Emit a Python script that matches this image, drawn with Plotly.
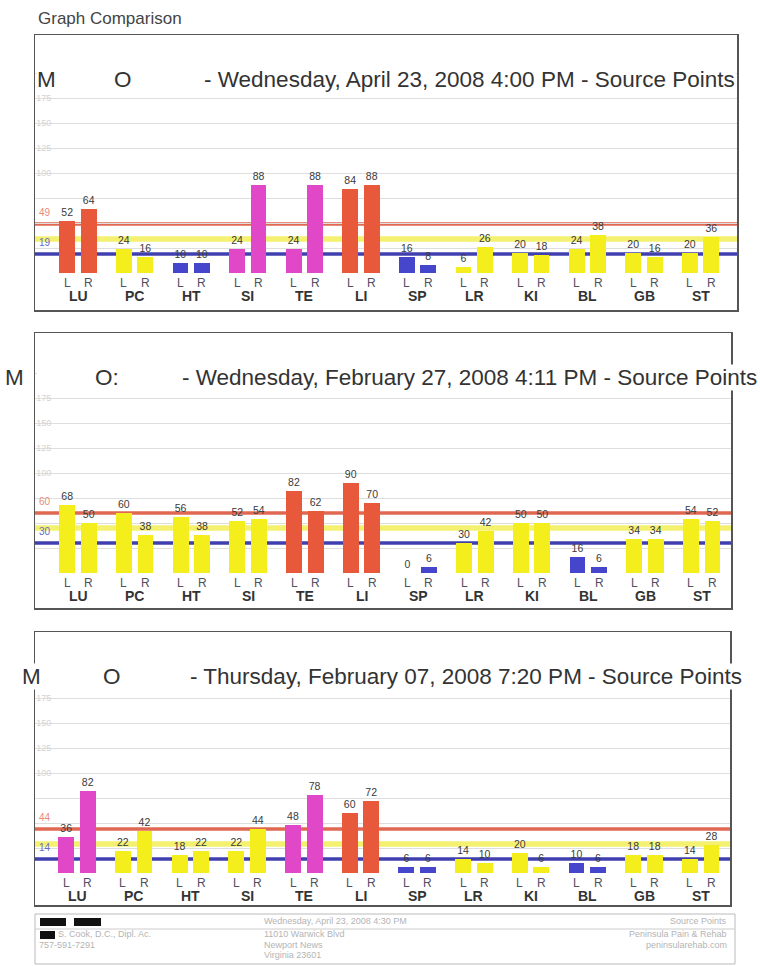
import plotly.graph_objects as go

W, H = 760, 966

categories = ["LU", "PC", "HT", "SI", "TE", "LI", "SP", "LR", "KI", "BL", "GB", "ST"]

titles = [
    "- Wednesday, April 23, 2008 4:00 PM - Source Points",
    "- Wednesday, February 27, 2008 4:11 PM - Source Points",
    "- Thursday, February 07, 2008 7:20 PM - Source Points",
]
title_marks = [("M", "O"), ("M", "O:"), ("M", "O")]

p1_left = [52, 24, 10, 24, 24, 84, 16, 6, 20, 24, 20, 20]
p1_right = [64, 16, 10, 88, 88, 88, 8, 26, 18, 38, 16, 36]
p2_left = [68, 60, 56, 52, 82, 90, 0, 30, 50, 16, 34, 54]
p2_right = [50, 38, 38, 54, 62, 70, 6, 42, 50, 6, 34, 52]
p3_left = [36, 22, 18, 22, 48, 60, 6, 14, 20, 10, 18, 14]
p3_right = [82, 42, 22, 44, 78, 72, 6, 10, 6, 6, 18, 28]

# colour class of each bar: R red, Y yellow, B blue, M magenta
p1_left_cls = ["R", "Y", "B", "M", "M", "R", "B", "Y", "Y", "Y", "Y", "Y"]
p1_right_cls = ["R", "Y", "B", "M", "M", "R", "B", "Y", "Y", "Y", "Y", "Y"]
p2_left_cls = ["Y", "Y", "Y", "Y", "R", "R", "B", "Y", "Y", "B", "Y", "Y"]
p2_right_cls = ["Y", "Y", "Y", "Y", "R", "R", "B", "Y", "Y", "B", "Y", "Y"]
p3_left_cls = ["M", "Y", "Y", "Y", "M", "R", "B", "Y", "Y", "B", "Y", "Y"]
p3_right_cls = ["M", "Y", "Y", "Y", "M", "R", "B", "Y", "Y", "B", "Y", "Y"]

# reference lines: upper, mean, lower
p1_lines = [49, 34, 19]
p2_lines = [60, 45, 30]
p3_lines = [44, 29, 14]

grid_ticks = [25, 50, 75, 100, 125, 150, 175, 200]
grid_labels = ["", "", "", "100", "125", "150", "175", ""]

COL = {"R": "#e8593c", "Y": "#f4ee1c", "B": "#4646cc", "M": "#e048c8"}
LINE_COL = ["#e06852", "#f4f070", "#3f3fb0"]

panels = [
    dict(L=p1_left, R=p1_right, Lc=p1_left_cls, Rc=p1_right_cls, lines=p1_lines,
         box=(35, 737, 35, 310), base=273, c0=78, s=56.6, ty=80,
         mx=(36, 113, 203)),
    dict(L=p2_left, R=p2_right, Lc=p2_left_cls, Rc=p2_right_cls, lines=p2_lines,
         box=(35, 731, 333, 608), base=573, c0=78, s=56.7, ty=378,
         mx=(4, 94, 181)),
    dict(L=p3_left, R=p3_right, Lc=p3_left_cls, Rc=p3_right_cls, lines=p3_lines,
         box=(35, 730, 632, 905), base=873, c0=77, s=56.7, ty=676,
         mx=(21, 102, 189)),
]


def px(x):
    return x / W


def py(y):
    return 1 - y / H


fig = go.Figure()
annotations = []
shapes = []
layout = {}
FONT = "Liberation Sans, Arial, sans-serif"
OFF = 0.19

for k, p in enumerate(panels):
    n = "" if k == 0 else str(k + 1)
    xa, ya = "x" + n, "y" + n
    x0, x1, y0, y1 = p["box"]
    base, c0, s = p["base"], p["c0"], p["s"]
    idx = list(range(len(categories)))

    for vals, cls, sign in ((p["L"], p["Lc"], -1), (p["R"], p["Rc"], 1)):
        fig.add_trace(go.Bar(
            x=[i + sign * OFF for i in idx], y=vals, width=0.28,
            marker=dict(color=[COL[c] for c in cls], line=dict(width=0)),
            text=[str(v) for v in vals], textposition="outside",
            textfont=dict(size=10.5, color="#3a3a3a", family=FONT),
            constraintext="none", cliponaxis=False,
            xaxis=xa, yaxis=ya, showlegend=False, hoverinfo="skip"))

    layout["xaxis" + n] = dict(
        domain=[px(x0), px(x1)], range=[(x0 - c0) / s, (x1 - c0) / s],
        anchor=ya, showgrid=False, zeroline=False, showticklabels=False,
        ticks="", showline=True, mirror=True, linecolor="#555", linewidth=1.5,
        fixedrange=True)
    layout["yaxis" + n] = dict(
        domain=[py(y1), py(y0)], range=[-(y1 - base), base - y0],
        anchor=xa, tickvals=grid_ticks, ticktext=grid_labels, showgrid=True,
        gridcolor="#dedede", gridwidth=1, zeroline=False, ticklabelposition="inside",
        tickfont=dict(size=9, color="#d4d4d4", family=FONT), ticks="",
        showline=True, mirror=True, linecolor="#555", linewidth=1.5,
        fixedrange=True)

    # white band behind the title so the grid does not cross it
    shapes.append(dict(type="rect", xref="paper", yref="paper",
                       x0=px(x0 + 2), x1=px(x1 - 2), y0=py(p["ty"] + 11), y1=py(p["ty"] - 11),
                       fillcolor="white", line=dict(width=0), layer="above"))

    # reference lines (behind the bars)
    for v, c, wdt in zip(p["lines"], LINE_COL, (3.5, 5.5, 3.5)):
        shapes.append(dict(type="line", xref=xa + " domain", yref=ya,
                           x0=0, x1=1, y0=v, y1=v, line=dict(color=c, width=wdt),
                           layer="below"))
    for v, c in ((p["lines"][0], "#e88a7a"), (p["lines"][2], "#6a6ac8")):
        annotations.append(dict(xref=xa, yref=ya, x=(37 - c0) / s, y=v + 12,
                                text=str(v), showarrow=False, xanchor="left",
                                font=dict(size=10, color=c, family=FONT)))

    # L / R and category labels
    for i, cat in enumerate(categories):
        for sign, t in ((-1, "L"), (1, "R")):
            annotations.append(dict(xref=xa, yref=ya, x=i + sign * OFF, y=-10,
                                    text=t, showarrow=False,
                                    font=dict(size=12, color="#505060", family=FONT)))
        annotations.append(dict(xref=xa, yref=ya, x=i, y=-23, text="<b>" + cat + "</b>",
                                showarrow=False,
                                font=dict(size=14, color="#333", family=FONT)))

    # title pieces
    mx = p["mx"]
    m1, m2 = title_marks[k]
    for xx, t in ((mx[0], m1), (mx[1], m2), (mx[2], titles[k])):
        annotations.append(dict(xref="paper", yref="paper", x=px(xx), y=py(p["ty"]),
                                text=t, showarrow=False, xanchor="left", yanchor="middle",
                                bgcolor="white", borderpad=0,
                                font=dict(size=22.5, color="#333", family=FONT)))

# heading
annotations.append(dict(xref="paper", yref="paper", x=px(36), y=py(18), text="Graph Comparison",
                        showarrow=False, xanchor="left", yanchor="middle",
                        font=dict(size=17, color="#444", family=FONT)))

# footer
shapes.append(dict(type="rect", xref="paper", yref="paper", x0=px(35), x1=px(735),
                   y0=py(964), y1=py(914), line=dict(color="#bbb", width=1)))
shapes.append(dict(type="line", xref="paper", yref="paper", x0=px(35), x1=px(735),
                   y0=py(929), y1=py(929), line=dict(color="#ccc", width=1)))
for (a, b, c, d) in ((40, 66, 918, 926), (74, 101, 918, 926), (40, 55, 931, 939)):
    shapes.append(dict(type="rect", xref="paper", yref="paper", x0=px(a), x1=px(b),
                       y0=py(d), y1=py(c), fillcolor="#111", line=dict(width=0)))
footer = [
    (262, 921, "Wednesday, April 23, 2008 4:30 PM", "left"),
    (729, 921, "Source Points", "right"),
    (56, 934, "S. Cook, D.C., Dipl. Ac.", "left"),
    (262, 934, "11010 Warwick Blvd", "left"),
    (729, 934, "Peninsula Pain & Rehab", "right"),
    (37, 945, "757-591-7291", "left"),
    (262, 945, "Newport News", "left"),
    (729, 945, "peninsularehab.com", "right"),
    (262, 955, "Virginia 23601", "left"),
]
for xx, yy, t, anc in footer:
    annotations.append(dict(xref="paper", yref="paper", x=px(xx), y=py(yy), text=t,
                            showarrow=False, xanchor=anc, yanchor="middle",
                            font=dict(size=9, color="#b4b4b4", family=FONT)))

fig.update_layout(
    width=W, height=H, margin=dict(l=0, r=0, t=0, b=0),
    paper_bgcolor="white", plot_bgcolor="white", bargap=0,
    annotations=annotations, shapes=shapes, **layout)

fig.write_html("out.html", config={"displayModeBar": False, "staticPlot": True},
               post_script="document.body.style.margin='0';")
